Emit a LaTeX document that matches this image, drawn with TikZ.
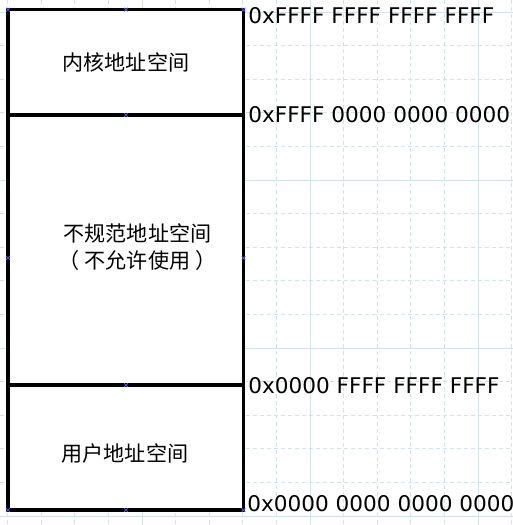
\documentclass[tikz,border=0pt]{standalone}
\usepackage{fontspec}
\setmainfont{DejaVu Sans}
\newfontfamily\cjk{Noto Sans CJK SC}
\usepackage{tikz}
\usetikzlibrary{positioning}

\definecolor{gridline}{RGB}{212,228,228}
\definecolor{markblue}{RGB}{90,90,240}

\begin{document}
\begin{tikzpicture}[
        x=0.02cm, y=-0.02cm,
        % background grid of the drawing
        minorgrid/.style={draw=gridline, line width=0.5pt, dash pattern=on 2.3pt off 1.7pt},
        majorgrid/.style={draw=gridline, line width=0.5pt},
        % the three address ranges
        region/.style={draw=black, line width=2pt, fill=white},
        regiontext/.style={font=\cjk\fontsize{12}{15.3}\selectfont, align=center, inner sep=0pt},
        addr/.style={font=\fontsize{12.3}{14}\selectfont, anchor=base west, inner sep=0pt},
        handle/.style={draw=markblue, line width=0.4pt}
    ]
    \useasboundingbox (0,0) rectangle (513,525);

    % grid
    \foreach \k in {0,...,15} {
        \draw[minorgrid] (7.6+33.6*\k,0) -- (7.6+33.6*\k,525);
        \draw[minorgrid] (0,12+33.6*\k) -- (513,12+33.6*\k);
    }
    \foreach \k in {142,310,478}
        \draw[majorgrid] (\k,0) -- (\k,525);
    \foreach \k in {12,180,348,516}
        \draw[majorgrid] (0,\k) -- (513,\k);

    % boundaries of the ranges
    \coordinate (topl) at (8,9.5);
    \coordinate (topr) at (243.5,9.5);
    \coordinate (kernr) at (243.5,115);
    \coordinate (userr) at (243.5,385);
    \coordinate (botl) at (8,510);
    \coordinate (botr) at (243.5,510);

    \draw[region] (topl) rectangle (kernr);
    \draw[region] (topl |- kernr) rectangle (userr);
    \draw[region] (topl |- userr) rectangle (botr);

    \node[regiontext] (kernel) at (126,62) {内核地址空间};
    \node[regiontext] (noncanon) at (137.5,247.5) {不规范地址空间\\（\kern3pt 不允许使用\kern3pt ）};
    \node[regiontext] (user) at (125,453.5) {用户地址空间};

    \node[addr] (a3) at (248,23) {0xFFFF FFFF FFFF FFFF};
    \node[addr] (a2) at (248,122) {0xFFFF 0000 0000 0000};
    \node[addr] (a1) at (248,393) {0x0000 FFFF FFFF FFFF};
    \node[addr] (a0) at (247,511) {0x0000 0000 0000 0000};

    % selection handles
    \foreach \p in {(topl),(topr),(botl),(botr),(126,9.5),(126,115),(126,385),(126,510),(8,258),(243.5,258)}
        \draw[handle] \p +(-1.8,-1.8) -- +(1.8,1.8) +(-1.8,1.8) -- +(1.8,-1.8);
\end{tikzpicture}
\end{document}
